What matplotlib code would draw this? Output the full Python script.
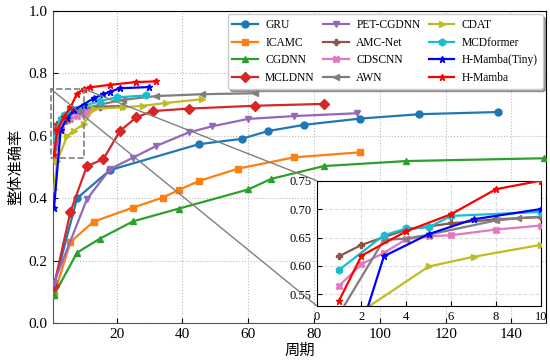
import numpy as np
import matplotlib
matplotlib.use("Agg")
import matplotlib.pyplot as plt
from matplotlib.patches import Rectangle, ConnectionPatch

plt.rcParams['font.family'] = ['Liberation Serif', 'Noto Sans CJK SC', 'DejaVu Sans']
plt.rcParams['xtick.direction'] = 'in'
plt.rcParams['ytick.direction'] = 'in'

# data (epoch, overall accuracy)
names = ["GRU", "ICAMC", "CGDNN", "MCLDNN", "PET-CGDNN", "AMC-Net",
         "CDSCNN", "AWN", "CDAT", "MCDformer", "H-Mamba(Tiny)", "H-Mamba"]

gru_x = [1, 8, 18, 45, 58, 66, 77, 94, 112, 136]
gru_y = [0.12, 0.40, 0.49, 0.573, 0.59, 0.615, 0.635, 0.655, 0.669, 0.676]
icamc_x = [1, 6, 13, 25, 34, 39, 45, 57, 74, 94]
icamc_y = [0.09, 0.26, 0.325, 0.37, 0.402, 0.427, 0.455, 0.495, 0.531, 0.547]
cgdnn_x = [1, 8, 15, 25, 39, 60, 67, 83, 108, 150]
cgdnn_y = [0.09, 0.226, 0.271, 0.326, 0.367, 0.428, 0.462, 0.503, 0.519, 0.528]
mcldnn_x = [1, 6, 11, 16, 21, 26, 31, 42, 62, 83]
mcldnn_y = [0.12, 0.357, 0.503, 0.525, 0.615, 0.659, 0.679, 0.687, 0.696, 0.702]
pet_x = [1, 11, 18, 25, 32, 42, 49, 60, 74, 93]
pet_y = [0.13, 0.397, 0.493, 0.53, 0.567, 0.611, 0.63, 0.654, 0.663, 0.672]
amcnet_x = [1, 2, 4, 6, 8, 10, 15, 22]
amcnet_y = [0.617, 0.637, 0.664, 0.675, 0.682, 0.686, 0.693, 0.695]
cdscnn_x = [1, 2, 3, 4, 5, 6, 8, 10, 11]
cdscnn_y = [0.565, 0.603, 0.623, 0.647, 0.652, 0.654, 0.664, 0.671, 0.677]
awn_x = [1, 3, 4, 5, 8, 9, 15, 22, 32, 46, 62]
awn_y = [0.515, 0.646, 0.648, 0.655, 0.68, 0.684, 0.700, 0.715, 0.727, 0.733, 0.736]
cdat_x = [1, 2, 5, 7, 10, 13, 22, 28, 35, 46]
cdat_y = [0.43, 0.52, 0.599, 0.616, 0.637, 0.686, 0.691, 0.696, 0.705, 0.717]
mcdf_x = [1, 3, 4, 5, 6, 10, 15, 20, 29]
mcdf_y = [0.593, 0.654, 0.666, 0.668, 0.688, 0.695, 0.711, 0.723, 0.729]
tiny_x = [1, 3, 5, 7, 10, 13, 16, 18, 21, 30]
tiny_y = [0.368, 0.617, 0.656, 0.682, 0.70, 0.72, 0.733, 0.741, 0.752, 0.756]
hm_x = [1, 2, 4, 6, 8, 10, 12, 18, 26, 32]
hm_y = [0.539, 0.618, 0.661, 0.691, 0.735, 0.750, 0.755, 0.763, 0.772, 0.774]

xs = [gru_x, icamc_x, cgdnn_x, mcldnn_x, pet_x, amcnet_x, cdscnn_x, awn_x, cdat_x, mcdf_x, tiny_x, hm_x]
ys = [gru_y, icamc_y, cgdnn_y, mcldnn_y, pet_y, amcnet_y, cdscnn_y, awn_y, cdat_y, mcdf_y, tiny_y, hm_y]
colors = ["tab:blue", "tab:orange", "tab:green", "tab:red", "tab:purple", "tab:brown",
          "tab:pink", "tab:gray", "tab:olive", "tab:cyan", "blue", "red"]
markers = ["o", "s", "^", "D", "v", "P", "X", "<", ">", "h", "*", "*"]

fig = plt.figure(figsize=(5.5, 3.61), dpi=100)
ax = fig.add_axes([0.0958, 0.1047, 0.897, 0.8654])

for i in range(len(names)):
    ax.plot(xs[i], ys[i], color=colors[i], marker=markers[i], markersize=5,
            linewidth=1.6, label=names[i], zorder=3 + i)

ax.set_xlim(0.6, 150.5)
ax.set_ylim(0, 1)
ax.set_xticks([20, 40, 60, 80, 100, 120, 140])
ax.set_yticks([0, 0.2, 0.4, 0.6, 0.8, 1.0])
ax.tick_params(labelsize=11)
ax.grid(True, linestyle=':', color='#bbbbbb', linewidth=0.8)
ax.set_xlabel("周期", fontsize=11, labelpad=2)
ax.set_ylabel("整体准确率", fontsize=11)
for s in ['left', 'bottom']:
    ax.spines[s].set_color('#555555')

leg = ax.legend(loc='upper right', ncol=3, fontsize=8.3, shadow=True, fancybox=True,
                columnspacing=0.75, handlelength=2.2, handletextpad=0.65,
                borderaxespad=0.3, framealpha=1)

# zoom window
x0, x1, y0, y1 = 0, 10, 0.53, 0.75
ax.add_patch(Rectangle((x0, y0), x1 - x0, y1 - y0, fill=False, edgecolor='gray',
                       linestyle='--', linewidth=1.2, zorder=20, clip_on=False))

axins = fig.add_axes([0.5758, 0.1532, 0.4073, 0.3463])
for i in range(len(names)):
    axins.plot(xs[i], ys[i], color=colors[i], marker=markers[i], markersize=5,
               linewidth=1.6, zorder=3 + i)
axins.set_xlim(x0, x1)
axins.set_ylim(y0, y1)
axins.set_xticks([0, 2, 4, 6, 8, 10])
axins.set_yticks([0.55, 0.60, 0.65, 0.70, 0.75])
axins.set_yticklabels(["0.55", "0.60", "0.65", "0.70", "0.75"])
axins.tick_params(labelsize=9)
axins.grid(True, linestyle='--', color='#dddddd', linewidth=0.8)

con1 = ConnectionPatch(xyA=(x1, y1), coordsA=ax.transData, xyB=(0, 1), coordsB=axins.transAxes,
                       color='gray', linewidth=1.0, zorder=1)
con2 = ConnectionPatch(xyA=(x0, y1), coordsA=ax.transData, xyB=(0, 0), coordsB=axins.transAxes,
                       color='gray', linewidth=1.0, zorder=1)
fig.add_artist(con1)
fig.add_artist(con2)

fig.savefig("out.png", dpi=100)
